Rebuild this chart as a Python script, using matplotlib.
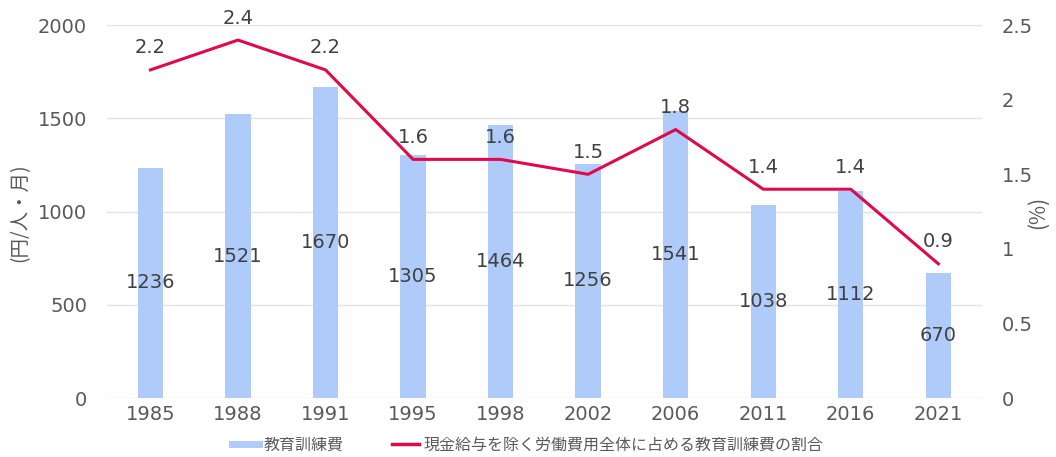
import matplotlib
matplotlib.use("Agg")
import matplotlib.pyplot as plt
import numpy as np
from matplotlib.lines import Line2D

plt.rcParams['font.family'] = ['DejaVu Sans', 'Noto Sans CJK JP']
CJK = ['Noto Sans CJK JP', 'DejaVu Sans']

years = ["1985", "1988", "1991", "1995", "1998", "2002", "2006", "2011", "2016", "2021"]
cost = [1236, 1521, 1670, 1305, 1464, 1256, 1541, 1038, 1112, 670]
ratio = [2.2, 2.4, 2.2, 1.6, 1.6, 1.5, 1.8, 1.4, 1.4, 0.9]

bar_color = "#AECBFA"
line_color = "#E0094B"
text_color = "#595959"
label_color = "#404040"
NUM = 14

fig = plt.figure(figsize=(10.56, 4.57), dpi=100)
ax = fig.add_axes([0.101, 0.129, 0.829, 0.816])
ax2 = ax.twinx()

x = np.arange(len(years))
ax.bar(x, cost, width=0.29, color=bar_color, zorder=2)
ax.set_ylim(0, 2000)
ax.set_yticks([0, 500, 1000, 1500, 2000])
ax.set_xlim(-0.5, len(years) - 0.5)
ax.set_xticks(x)
ax.set_xticklabels(years)
ax.grid(axis='y', color='#E3E3E3', linewidth=1, zorder=0)
ax.set_axisbelow(True)
for s in ax.spines.values():
    s.set_visible(False)
for s in ax2.spines.values():
    s.set_visible(False)
ax.tick_params(axis='x', length=0, labelsize=NUM, colors=text_color, pad=5)
ax.tick_params(axis='y', length=0, labelsize=NUM, colors=text_color, pad=14)
for xi, v in zip(x, cost):
    ax.text(xi, v / 2, str(v), ha='center', va='center', fontsize=NUM, color=label_color, zorder=5)

ax2.plot(x, ratio, color=line_color, linewidth=2.2, zorder=4)
ax2.set_ylim(0, 2.5)
ax2.set_yticks([0, 0.5, 1, 1.5, 2, 2.5])
ax2.set_yticklabels(["0", "0.5", "1", "1.5", "2", "2.5"])
ax2.tick_params(axis='y', length=0, labelsize=NUM, colors=text_color, pad=14)
for xi, v in zip(x, ratio):
    ax2.annotate(f"{v}", (xi, v), xytext=(0, 9), textcoords='offset points',
                 ha='center', va='bottom', fontsize=NUM, color=label_color)

fig.text(0.019, 0.535, "(円/人・月)", rotation=90, ha='center', va='center',
         fontsize=14, color=text_color, family=CJK)
fig.text(0.983, 0.535, "(%)", rotation=90, ha='center', va='center',
         fontsize=15, color=text_color, family=CJK)

handles = [Line2D([0], [0], color=bar_color, linewidth=5),
           Line2D([0], [0], color=line_color, linewidth=2.5)]
fig.legend(handles, ["教育訓練費", "現金給与を除く労働費用全体に占める教育訓練費の割合"],
           loc='lower center', bbox_to_anchor=(0.5, -0.025), ncol=2, frameon=False,
           prop={'family': CJK, 'size': 11.5}, labelcolor=text_color,
           handlelength=1.7, columnspacing=3.0, handletextpad=0.3)

fig.savefig("out.png", dpi=100)
